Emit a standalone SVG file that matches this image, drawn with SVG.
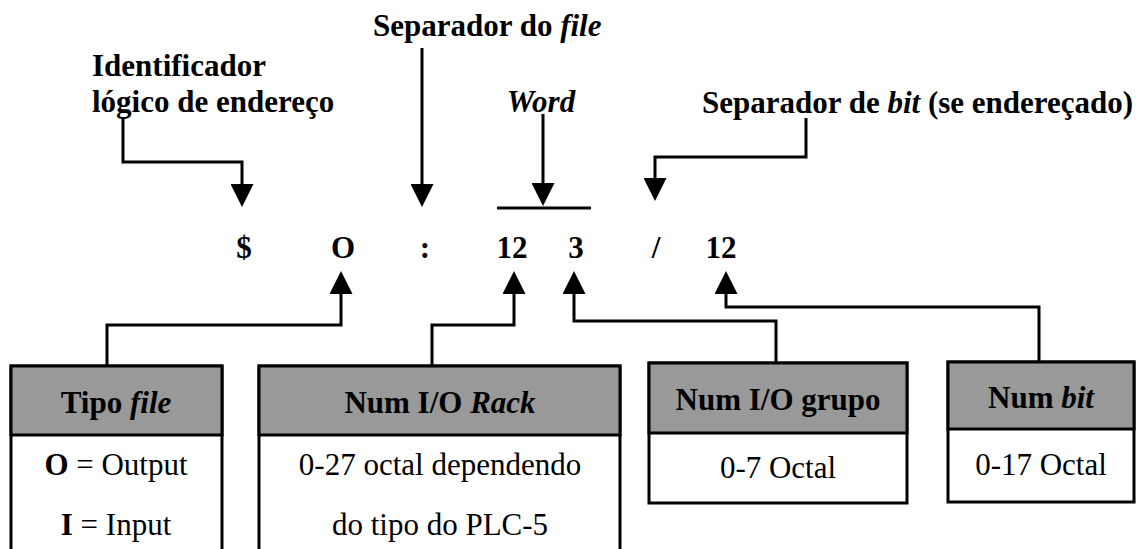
<svg xmlns="http://www.w3.org/2000/svg" width="1136" height="549" viewBox="0 0 1136 549" font-family="'Liberation Serif', 'Times New Roman', serif">
  <style>
    text { font-family: "Liberation Serif", "Times New Roman", serif; font-size: 31px; fill: #000; }
    .b { font-weight: bold; }
    .i { font-style: italic; }
    .mid { text-anchor: middle; }
    .wire { fill: none; stroke: #000; stroke-width: 3; marker-end: url(#head); }
    .frame { fill: #fff; stroke: #000; stroke-width: 3; }
    .hdr { fill: #999; stroke: #000; stroke-width: 3; }
  </style>
  <defs>
    <marker id="head" viewBox="0 0 23 23" refX="0" refY="11.5" markerWidth="23" markerHeight="23" markerUnits="userSpaceOnUse" orient="auto">
      <path d="M0,0 L23,11.5 L0,23 z" fill="#000"/>
    </marker>
  </defs>

  <rect width="1136" height="549" fill="#fff"/>

  <!-- callout labels above the address -->
  <g id="lbl-identificador">
    <text class="b" x="92" y="76">Identificador</text>
    <text class="b" x="92" y="112">lógico de endereço</text>
  </g>
  <g id="lbl-sep-file">
    <text class="b" x="373" y="36">Separador do <tspan class="i">file</tspan></text>
  </g>
  <g id="lbl-word">
    <text class="b i mid" x="541" y="112">Word</text>
  </g>
  <g id="lbl-sep-bit">
    <text class="b" x="702" y="113">Separador de <tspan class="i">bit</tspan> (se endereçado)</text>
  </g>

  <!-- the address itself -->
  <g id="address">
    <text class="b mid" x="244" y="258">$</text>
    <text class="b mid" x="343" y="258">O</text>
    <text class="b mid" x="425" y="258">:</text>
    <text class="b mid" x="512" y="258">12</text>
    <text class="b mid" x="576" y="258">3</text>
    <text class="b mid" x="656" y="258">/</text>
    <text class="b mid" x="721" y="258">12</text>
  </g>

  <!-- description boxes -->
  <g id="box-tipo">
    <rect class="frame" x="11" y="366" width="211" height="200"/>
    <rect class="hdr" x="11" y="366" width="211" height="69"/>
    <text class="b mid" x="116" y="413">Tipo <tspan class="i">file</tspan></text>
    <text class="mid" x="116" y="475"><tspan class="b">O</tspan> = Output</text>
    <text class="mid" x="116" y="535"><tspan class="b">I</tspan> = Input</text>
  </g>
  <g id="box-rack">
    <rect class="frame" x="259" y="366" width="361" height="200"/>
    <rect class="hdr" x="259" y="366" width="361" height="69"/>
    <text class="b mid" x="440" y="413">Num I/O <tspan class="i">Rack</tspan></text>
    <text class="mid" x="440" y="475">0-27 octal dependendo</text>
    <text class="mid" x="440" y="535">do tipo do PLC-5</text>
  </g>
  <g id="box-grupo">
    <rect class="frame" x="649" y="363" width="258" height="140"/>
    <rect class="hdr" x="649" y="363" width="258" height="70"/>
    <text class="b mid" x="778" y="410">Num I/O grupo</text>
    <text class="mid" x="778" y="478">0-7 Octal</text>
  </g>
  <g id="box-bit">
    <rect class="frame" x="948" y="362" width="186" height="140"/>
    <rect class="hdr" x="948" y="362" width="186" height="67"/>
    <text class="b mid" x="1041" y="408">Num <tspan class="i">bit</tspan></text>
    <text class="mid" x="1041" y="475">0-17 Octal</text>
  </g>

  <!-- connectors -->
  <g id="connectors">
    <path class="wire" d="M123,117 V162 H242 V184"/>
    <path class="wire" d="M422,48 V184"/>
    <path class="wire" d="M543,114 V183"/>
    <line x1="497" y1="208" x2="591" y2="208" stroke="#000" stroke-width="3"/>
    <path class="wire" d="M806,118 V157 H655 V178"/>
    <path class="wire" d="M107,366 V325 H341 V294"/>
    <path class="wire" d="M432,366 V325 H514 V294"/>
    <path class="wire" d="M776,363 V321 H574 V294"/>
    <path class="wire" d="M1039,362 V307 H726 V294"/>
  </g>
</svg>
